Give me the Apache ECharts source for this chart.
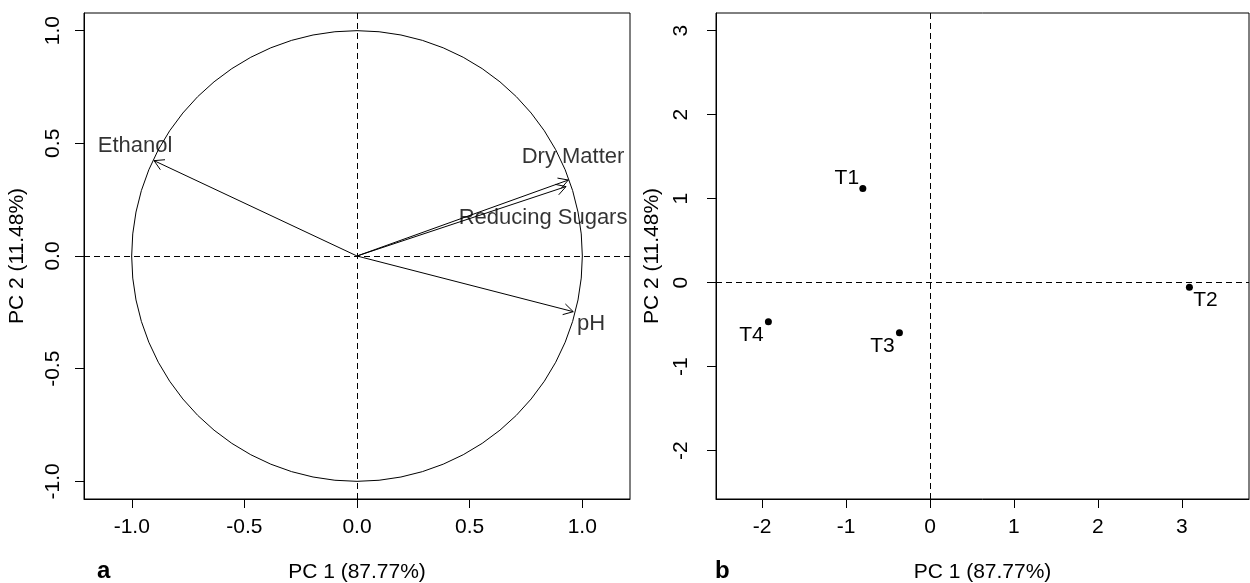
<!DOCTYPE html>
<html><head><meta charset="utf-8">
<script src="https://cdn.jsdelivr.net/npm/echarts@6/dist/echarts.min.js"></script>
<style>html,body{margin:0;padding:0;background:#fff}#c{width:1250px;height:583px}</style>
</head><body><div id="c"></div>
<script>
// ---- data ----
const variables = ['Ethanol', 'Dry Matter', 'Reducing Sugars', 'pH'];
const loadX = [-0.901, 0.938, 0.928, 0.960];
const loadY = [0.423, 0.337, 0.308, -0.247];
const varLabelX = [-0.985, 0.959, 0.826, 1.039];
const varLabelY = [0.488, 0.439, 0.169, -0.302];
const circleRadius = [1];
const treatments = ['T1', 'T2', 'T3', 'T4'];
const scoreX = [-0.80, 3.09, -0.364, -1.925];
const scoreY = [1.121, -0.057, -0.598, -0.467];
const leftXTicks = [-1.0, -0.5, 0.0, 0.5, 1.0];
const leftYTicks = [-1.0, -0.5, 0.0, 0.5, 1.0];
const rightXTicks = [-2, -1, 0, 1, 2, 3];
const rightYTicks = [-2, -1, 0, 1, 2, 3];
const xName = 'PC 1 (87.77%)';
const yName = 'PC 2 (11.48%)';

// ---- styling ----
const FF = 'Liberation Sans, Arial, sans-serif';
const ptLabelOffset = { T1: [-16, -10], T2: [16, 13], T3: [-17, 13], T4: [-17, 13] };

const chart = echarts.init(document.getElementById('c'), null, { renderer: 'canvas' });

function xAxis(idx, min, max, ticks, dec) {
  return {
    type: 'value', gridIndex: idx, min: min, max: max,
    name: xName, nameLocation: 'middle', nameGap: 63,
    nameTextStyle: { color: '#000', fontSize: 21, fontFamily: FF },
    axisLine: { show: true, onZero: false, lineStyle: { color: '#000', width: 1 } },
    axisTick: { show: true, inside: false, length: 9, customValues: ticks, lineStyle: { color: '#000' } },
    axisLabel: { show: true, customValues: ticks, margin: 18, color: '#000', fontSize: 21, fontFamily: FF,
      formatter: v => dec ? Number(v).toFixed(1) : String(Math.round(v)) },
    splitLine: { show: false }
  };
}
function yAxis(idx, min, max, ticks, dec, nameGap, margin) {
  return {
    type: 'value', gridIndex: idx, min: min, max: max,
    name: yName, nameLocation: 'middle', nameGap: nameGap, nameRotate: 90,
    nameTextStyle: { color: '#000', fontSize: 21, fontFamily: FF },
    axisLine: { show: true, onZero: false, lineStyle: { color: '#000', width: 1 } },
    axisTick: { show: true, inside: false, length: 9, customValues: ticks, lineStyle: { color: '#000' } },
    axisLabel: { show: true, customValues: ticks, rotate: 90, margin: margin, color: '#000', fontSize: 21, fontFamily: FF,
      formatter: v => dec ? Number(v).toFixed(1) : String(Math.round(v)) },
    splitLine: { show: false }
  };
}

const dashLine = {
  silent: true, symbol: 'none', label: { show: false },
  lineStyle: { color: '#000', width: 1, type: [6, 4] },
  emphasis: { disabled: true },
  data: [{ xAxis: 0 }, { yAxis: 0 }]
};

const option = {
  animation: false,
  backgroundColor: '#fff',
  title: [
    { text: 'a', left: 97, top: 559, padding: 0, textStyle: { fontSize: 24, fontWeight: 'bold', color: '#000', fontFamily: FF } },
    { text: 'b', left: 715, top: 559, padding: 0, textStyle: { fontSize: 24, fontWeight: 'bold', color: '#000', fontFamily: FF } }
  ],
  grid: [
    { left: 84, top: 13, width: 546, height: 486, show: true, borderColor: '#000', borderWidth: 1, backgroundColor: 'transparent',
      containLabel: false, outerBoundsMode: 'none' },
    { left: 716, top: 13, width: 533, height: 486, show: true, borderColor: '#000', borderWidth: 1, backgroundColor: 'transparent',
      containLabel: false, outerBoundsMode: 'none' }
  ],
  xAxis: [
    xAxis(0, -1.212, 1.212, leftXTicks, true),
    xAxis(1, -2.549, 3.80, rightXTicks, false)
  ],
  yAxis: [
    yAxis(0, -1.078, 1.078, leftYTicks, true, 56, 20),
    yAxis(1, -2.577, 3.21, rightYTicks, false, 53, 24)
  ],
  series: [
    // correlation circle
    {
      type: 'custom', xAxisIndex: 0, yAxisIndex: 0, silent: true,
      data: circleRadius.map(r => [0, 0, r]),
      renderItem: (params, api) => {
        const c = api.coord([api.value(0), api.value(1)]);
        const s = api.size([api.value(2), api.value(2)]);
        return { type: 'circle', shape: { cx: c[0], cy: c[1], r: (s[0] + s[1]) / 2 },
          style: { fill: 'none', stroke: '#000', lineWidth: 1 } };
      },
      markLine: dashLine
    },
    // loading arrows
    {
      type: 'custom', xAxisIndex: 0, yAxisIndex: 0, silent: true,
      data: loadX.map((x, i) => [x, loadY[i]]),
      renderItem: (params, api) => {
        const o = api.coord([0, 0]);
        const p = api.coord([api.value(0), api.value(1)]);
        const ang = Math.atan2(p[1] - o[1], p[0] - o[0]);
        const L = 11, a = Math.PI / 6;
        const h1 = [p[0] - L * Math.cos(ang - a), p[1] - L * Math.sin(ang - a)];
        const h2 = [p[0] - L * Math.cos(ang + a), p[1] - L * Math.sin(ang + a)];
        const st = { stroke: '#000', lineWidth: 1, fill: 'none' };
        return { type: 'group', children: [
          { type: 'line', shape: { x1: o[0], y1: o[1], x2: p[0], y2: p[1] }, style: st },
          { type: 'polyline', shape: { points: [h1, p, h2] }, style: st }
        ] };
      }
    },
    // variable labels
    {
      type: 'scatter', xAxisIndex: 0, yAxisIndex: 0, silent: true, symbolSize: 0,
      data: variables.map((n, i) => ({ name: n, value: [varLabelX[i], varLabelY[i]] })),
      label: { show: true, position: 'inside', formatter: '{b}', color: '#000', fontSize: 22, fontFamily: FF },
      itemStyle: { color: 'transparent' }
    },
    // scores
    {
      type: 'scatter', xAxisIndex: 1, yAxisIndex: 1, silent: true, symbol: 'circle', symbolSize: 7,
      itemStyle: { color: '#000', opacity: 1 },
      data: treatments.map((n, i) => ({ name: n, value: [scoreX[i], scoreY[i]],
        label: { offset: ptLabelOffset[n] } })),
      label: { show: true, position: 'inside', formatter: '{b}', color: '#000', fontSize: 21, fontFamily: FF },
      markLine: dashLine
    }
  ]
};
chart.setOption(option);
</script>
</body></html>
